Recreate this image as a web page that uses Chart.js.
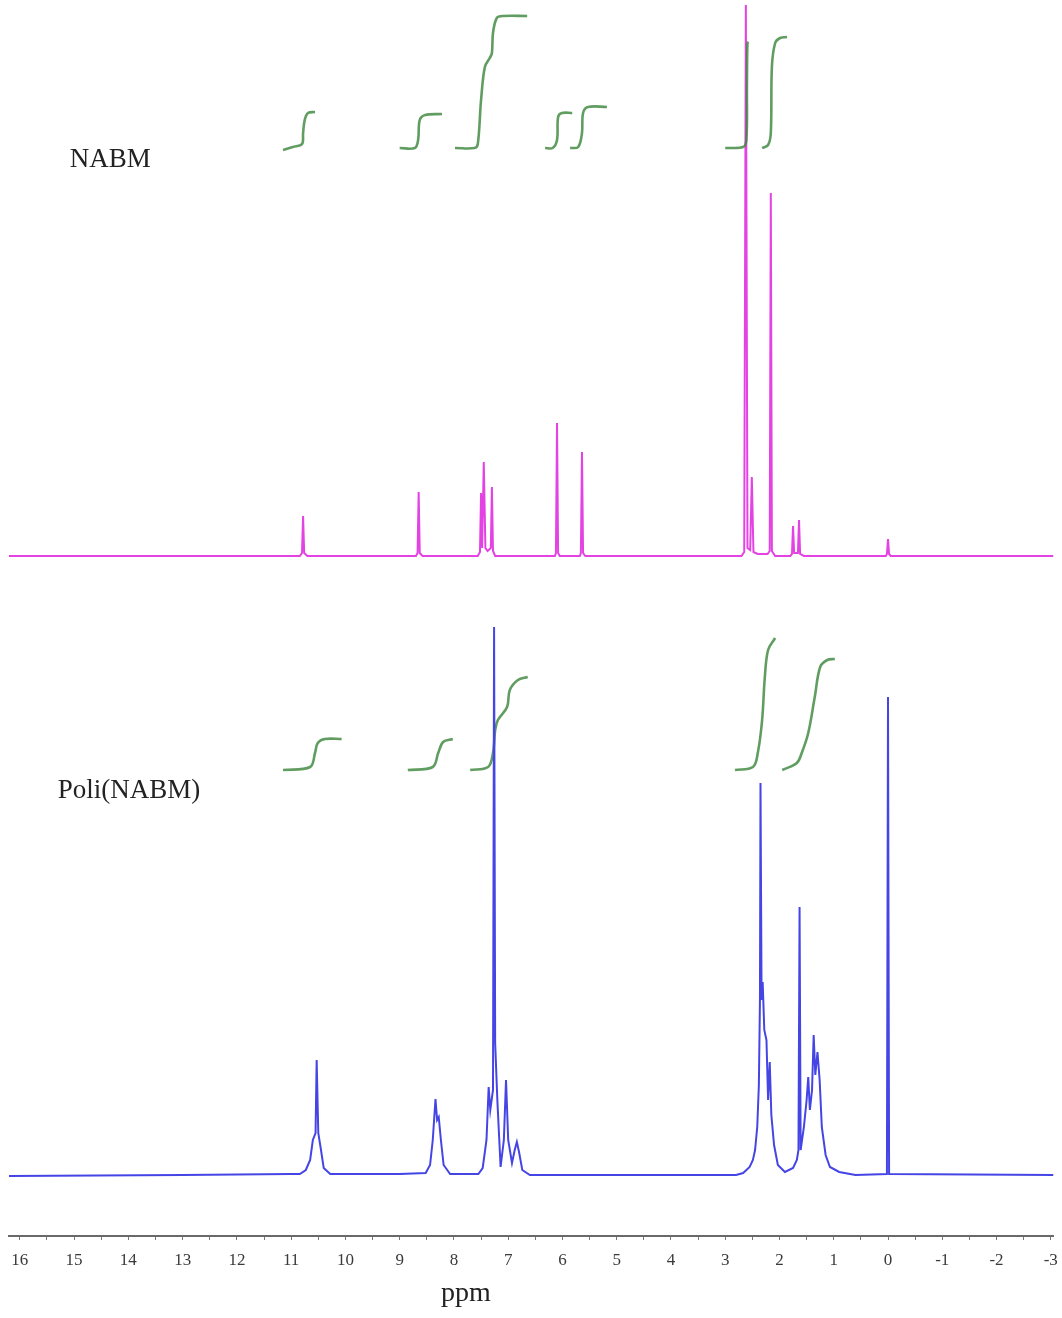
<!DOCTYPE html>
<html>
<head>
<meta charset="utf-8">
<script src="https://cdn.jsdelivr.net/npm/chart.js@4/dist/chart.umd.min.js"></script>
<style>
  html, body { margin: 0; padding: 0; background: #fff; }
  #wrap { width: 1062px; height: 1318px; position: relative; }
</style>
</head>
<body>
<div id="wrap"><canvas id="nmr-chart"></canvas></div>
<script>
// chemical shift (ppm) / intensity pairs
const nabmSpectrum = [
  [16.2, 0], [10.84, 0], [10.80, 3], [10.78, 40], [10.76, 3], [10.70, 0],
  [8.70, 0], [8.67, 3], [8.65, 64], [8.63, 3], [8.58, 0],
  [7.56, 0], [7.52, 4], [7.50, 63], [7.48, 8], [7.45, 94], [7.42, 8], [7.38, 5],
  [7.32, 8], [7.30, 69], [7.28, 5], [7.24, 0],
  [6.14, 0], [6.12, 3], [6.10, 133], [6.08, 3], [6.05, 0],
  [5.68, 0], [5.66, 3], [5.64, 104], [5.62, 3], [5.58, 0],
  [2.70, 0], [2.65, 4], [2.62, 551], [2.59, 8], [2.54, 6], [2.51, 79], [2.48, 4],
  [2.40, 2], [2.22, 2], [2.18, 5], [2.16, 363], [2.14, 5], [2.08, 0],
  [1.80, 0], [1.77, 2], [1.75, 30], [1.73, 3], [1.66, 3], [1.64, 36], [1.62, 2], [1.55, 0],
  [0.04, 0], [0.02, 2], [0.00, 17], [-0.02, 2], [-0.05, 0], [-3.05, 0]
];

const poliSpectrum = [
  [16.2, -1], [13.0, 0], [11.0, 1], [10.84, 1], [10.73, 5], [10.65, 15], [10.60, 35],
  [10.55, 42], [10.53, 115], [10.50, 42], [10.45, 25], [10.40, 7], [10.28, 1],
  [9.00, 1], [8.52, 2], [8.44, 10], [8.39, 35], [8.34, 76], [8.31, 55], [8.28, 58],
  [8.24, 35], [8.19, 10], [8.07, 1],
  [7.55, 1], [7.47, 7], [7.40, 35], [7.36, 88], [7.33, 65], [7.28, 85], [7.26, 548],
  [7.24, 132], [7.20, 75], [7.14, 8], [7.08, 35], [7.04, 95], [7.00, 35], [6.93, 12],
  [6.88, 25], [6.84, 33], [6.80, 23], [6.74, 5], [6.60, 0],
  [3.50, 0], [2.80, 0], [2.67, 2], [2.55, 8], [2.49, 15], [2.45, 25], [2.41, 48],
  [2.38, 90], [2.36, 175], [2.35, 392], [2.33, 175], [2.31, 193], [2.28, 145],
  [2.24, 135], [2.21, 75], [2.18, 113], [2.15, 60], [2.10, 30], [2.03, 10],
  [1.90, 3], [1.75, 7], [1.68, 15], [1.65, 25], [1.63, 268], [1.61, 25],
  [1.55, 48], [1.50, 75], [1.47, 98], [1.44, 65], [1.40, 85], [1.37, 140],
  [1.34, 100], [1.30, 123], [1.26, 95], [1.22, 48], [1.15, 20], [1.07, 8],
  [0.90, 3], [0.60, 0], [0.02, 1], [0.00, 478], [-0.02, 1], [-3.05, 0]
];

// integration curves, same units as the spectrum they sit on
const nabmIntegrals = [
  [[11.15, 406], [10.97, 409], [10.80, 412], [10.78, 423], [10.75, 436], [10.69, 443], [10.56, 444]],
  [[9.00, 408], [8.72, 408], [8.66, 416], [8.63, 436], [8.53, 441], [8.22, 442]],
  [[7.98, 408], [7.62, 408], [7.56, 412], [7.50, 456], [7.43, 489], [7.34, 498], [7.30, 503],
   [7.28, 523], [7.21, 538], [7.10, 540], [6.65, 540]],
  [[6.32, 408], [6.18, 408], [6.10, 416], [6.08, 439], [6.01, 443], [5.82, 443]],
  [[5.86, 408], [5.71, 409], [5.64, 423], [5.62, 443], [5.53, 449], [5.18, 449]],
  [[3.00, 408], [2.67, 409], [2.61, 416], [2.60, 470], [2.59, 513], [2.57, 514]],
  [[2.32, 408], [2.21, 411], [2.16, 423], [2.14, 489], [2.08, 513], [1.99, 518], [1.86, 519]]
];

const poliIntegrals = [
  [[11.15, 405], [10.65, 408], [10.56, 422], [10.51, 432], [10.38, 436], [10.07, 436]],
  [[8.85, 405], [8.39, 408], [8.29, 422], [8.20, 433], [8.02, 436]],
  [[7.70, 405], [7.37, 408], [7.28, 422], [7.24, 445], [7.19, 455], [7.02, 468],
   [6.97, 485], [6.82, 495], [6.64, 498]],
  [[2.82, 405], [2.49, 408], [2.40, 422], [2.32, 455], [2.27, 498], [2.21, 525], [2.08, 537]],
  [[1.95, 405], [1.68, 412], [1.59, 422], [1.47, 442], [1.35, 478], [1.25, 508],
   [1.12, 515], [0.98, 516]]
];

const tickValues = [16, 15.5, 15, 14.5, 14, 13.5, 13, 12.5, 12, 11.5, 11, 10.5, 10, 9.5, 9, 8.5,
  8, 7.5, 7, 6.5, 6, 5.5, 5, 4.5, 4, 3.5, 3, 2.5, 2, 1.5, 1, 0.5, 0, -0.5, -1, -1.5, -2, -2.5, -3];

const spectrumLabels = [
  { text: "NABM", ppm: 15.08, value: 1069 },
  { text: "Poli(NABM)", ppm: 15.30, value: 438 }
];

// vertical offsets that stack the two traces
const NABM_BASE = 680;
const POLI_BASE = 61;
const Y_TOP = 1236;

const magenta = "#e443e4";
const blue = "#4545e6";
const green = "rgba(62,135,62,0.82)";

function shifted(points, base) {
  return points.map(p => ({ x: p[0], y: p[1] + base }));
}

const datasets = [];
datasets.push({
  data: shifted(poliSpectrum, POLI_BASE),
  borderColor: blue, borderWidth: 2, pointRadius: 0, tension: 0, order: 0
});
nabmIntegrals.forEach(c => datasets.push({
  data: shifted(c, NABM_BASE),
  borderColor: green, borderWidth: 2.6, pointRadius: 0, tension: 0.35, order: 1
}));
poliIntegrals.forEach(c => datasets.push({
  data: shifted(c, POLI_BASE),
  borderColor: green, borderWidth: 2.6, pointRadius: 0, tension: 0.35, order: 1
}));
datasets.push({
  data: shifted(nabmSpectrum, NABM_BASE),
  borderColor: magenta, borderWidth: 2, pointRadius: 0, tension: 0, order: 2
});

const textLabels = {
  id: "textLabels",
  afterDraw(chart) {
    const { ctx, scales: { x, y } } = chart;
    ctx.save();
    ctx.fillStyle = "#222";
    ctx.font = "27px 'Liberation Serif', serif";
    ctx.textAlign = "left";
    ctx.textBaseline = "alphabetic";
    spectrumLabels.forEach(l => {
      ctx.fillText(l.text, x.getPixelForValue(l.ppm), y.getPixelForValue(l.value));
    });
    ctx.font = "28px 'Liberation Serif', serif";
    ctx.textAlign = "center";
    ctx.fillText("ppm", x.getPixelForValue(7.78), chart.height - 17);
    ctx.restore();
  }
};

new Chart(document.getElementById("nmr-chart"), {
  type: "line",
  data: { datasets },
  options: {
    responsive: true,
    maintainAspectRatio: false,
    animation: false,
    layout: { padding: { left: 9, right: 8.5, top: 0, bottom: 0 } },
    plugins: { legend: { display: false }, tooltip: { enabled: false } },
    scales: {
      x: {
        type: "linear",
        reverse: true,
        min: -3.05,
        max: 16.2,
        afterBuildTicks: scale => { scale.ticks = tickValues.map(v => ({ value: v })); },
        afterFit: scale => {
          scale.height = 82;
          scale.paddingLeft = 0;
          scale.paddingRight = 0;
        },
        ticks: {
          autoSkip: false,
          maxRotation: 0,
          padding: 10,
          color: "#3a3a3a",
          font: { family: "'Liberation Serif', serif", size: 17 },
          callback: v => Number.isInteger(v) ? String(v) : ""
        },
        grid: { drawOnChartArea: false, drawTicks: true, tickLength: 4, color: "#777" },
        border: { display: true, color: "#6a6a6a", width: 2 }
      },
      y: {
        display: false,
        min: 0,
        max: Y_TOP
      }
    }
  },
  plugins: [textLabels]
});
</script>
</body>
</html>
